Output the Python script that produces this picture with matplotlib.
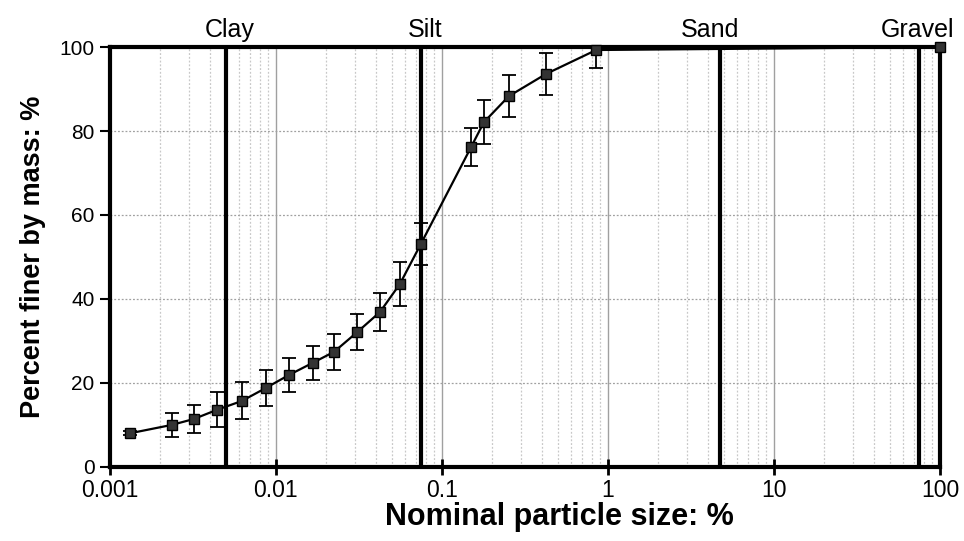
import matplotlib
matplotlib.use("Agg")
import matplotlib.pyplot as plt
import numpy as np
from matplotlib.ticker import LogLocator, FixedLocator, FixedFormatter

plt.rcParams['font.family'] = ['Liberation Sans', 'DejaVu Sans']

size = [0.00132, 0.00236, 0.0032, 0.00442, 0.00624, 0.0087, 0.012, 0.0167,
        0.0224, 0.0309, 0.0424, 0.0559, 0.0747, 0.15, 0.179, 0.253, 0.424, 0.85, 100]
finer = [8.0, 10.0, 11.4, 13.6, 15.7, 18.8, 21.9, 24.8, 27.4, 32.1, 36.9, 43.6,
         53.1, 76.2, 82.1, 88.3, 93.6, 99.3, 100.0]
err = [0.5, 2.8, 3.3, 4.2, 4.4, 4.2, 4.0, 4.0, 4.3, 4.2, 4.6, 5.3,
       5.1, 4.5, 5.2, 5.0, 5.0, 4.3, 0.0]

boundaries = [0.005, 0.075, 4.75, 75]
class_names = ["Clay", "Silt", "Sand", "Gravel"]
label_x = [0.00528, 0.079, 4.1, 73]

xticks = [0.001, 0.01, 0.1, 1, 10, 100]
xticklabels = ["0.001", "0.01", "0.1", "1", "10", "100"]
yticks = [0, 20, 40, 60, 80, 100]

fig = plt.figure(figsize=(9.64, 5.41), dpi=100)
ax = fig.add_axes([0.114, 0.137, 0.861, 0.776])

ax.set_xscale('log')
ax.set_xlim(0.001, 100)
ax.set_ylim(0, 100)

ax.xaxis.set_major_locator(FixedLocator(xticks))
ax.xaxis.set_major_formatter(FixedFormatter(xticklabels))
ax.xaxis.set_minor_locator(LogLocator(base=10, subs=np.arange(2, 10)))
ax.xaxis.set_minor_formatter(FixedFormatter([]))
ax.set_yticks(yticks)

ax.grid(True, which='major', axis='x', color='#a0a0a0', linestyle='-', linewidth=1.0)
ax.grid(True, which='minor', axis='x', color='#c8c8c8', linestyle=(0, (1.5, 1.5)), linewidth=0.9)
ax.grid(True, which='major', axis='y', color='#a0a0a0', linestyle=(0, (1.5, 1.5)), linewidth=0.9)
ax.set_axisbelow(True)

for b in boundaries:
    ax.axvline(b, color='black', linewidth=3, zorder=3)

ax.errorbar(size, finer, yerr=err, fmt='none', ecolor='black', elinewidth=1.3,
            capsize=5, capthick=1.3, zorder=4)
ax.plot(size, finer, color='black', linewidth=1.6, marker='s', markersize=7,
        markerfacecolor='#333333', markeredgecolor='black', zorder=5, clip_on=False)

for s in ['left', 'bottom', 'top', 'right']:
    ax.spines[s].set_linewidth(3)
    ax.spines[s].set_color('black')

ax.tick_params(axis='x', which='major', direction='inout', length=11, width=2,
               labelsize=16.5, pad=3)
ax.tick_params(axis='x', which='minor', length=0)
ax.tick_params(axis='y', which='major', direction='out', length=7, width=1.5,
               labelsize=15, pad=4)

for name, lx in zip(class_names, label_x):
    ax.text(lx, 101.2, name, ha='center', va='bottom', fontsize=18)

ax.set_xlabel("Nominal particle size: %", fontsize=22, fontweight='bold',
              labelpad=0, x=0.541)
ax.set_ylabel("Percent finer by mass: %", fontsize=19.5, fontweight='bold', labelpad=10)

fig.savefig("out.png", dpi=100)
